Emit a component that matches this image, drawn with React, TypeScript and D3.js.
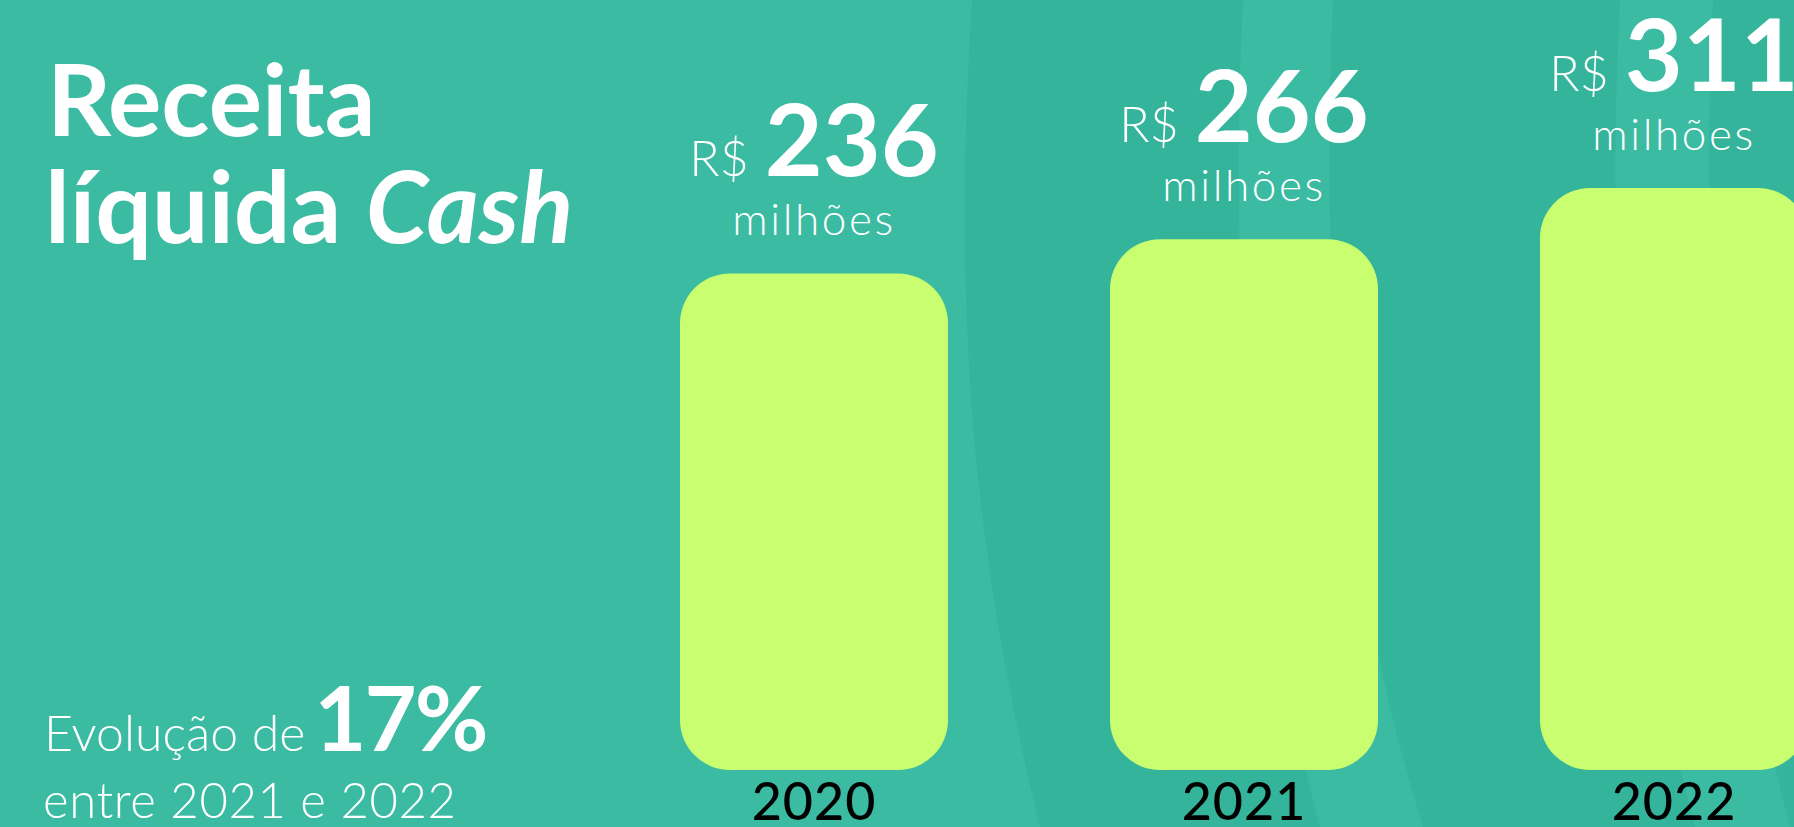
import React, { useEffect } from "react";
import * as d3 from "d3";

const years = ["2020", "2021", "2022"];
const values = [236, 266, 311];
const titleLines = ["Receita", "líquida"];
const titleItalic = "Cash";
const growthPct = "17%";
const growthPrefix = "Evolução de";
const growthSuffix = "entre 2021 e 2022";
const unitPrefix = "R$";
const unitSuffix = "milhões";

const W = 1794;
const H = 827;
const BG = "#3ABBA2";
const BG_DARK = "#34B49B";
const BAR = "#C8FE70";
const FONT = "Lato, 'Open Sans', sans-serif";

// background wave boundaries (decorative)
const bands: number[][] = [
  [972, 955, 280, 965, 520, 1040],
  [1243, 1228, 280, 1250, 560, 1320],
  [1333, 1320, 280, 1340, 560, 1423],
  [1620, 1605, 280, 1625, 560, 1695],
  [1713, 1700, 280, 1720, 560, 1790],
];

function bandPath(a: number[], b: number[] | null) {
  const p = d3.path();
  p.moveTo(a[0], 0);
  p.bezierCurveTo(a[1], a[2], a[3], a[4], a[5], H);
  if (b) {
    p.lineTo(b[5], H);
    p.bezierCurveTo(b[3], b[4], b[1], b[2], b[0], 0);
  } else {
    p.lineTo(W, H);
    p.lineTo(W, 0);
  }
  p.closePath();
  return p.toString();
}

export default function App() {
  useEffect(() => {
    document.body.style.margin = "0";
  }, []);

  const x = d3
    .scaleBand<string>()
    .domain(years)
    .range([680, 1808])
    .paddingInner(0.3767)
    .paddingOuter(0);
  // infographic-style truncated value axis
  const y = d3.scaleLinear().domain([-200, 311]).range([770, 188]);
  const baseline = y(-200);

  const darkPaths = [
    bandPath(bands[0], bands[1]),
    bandPath(bands[2], bands[3]),
    bandPath(bands[4], null),
  ];

  return (
    <svg
      width={W}
      height={H}
      viewBox={`0 0 ${W} ${H}`}
      style={{ display: "block", position: "absolute", left: 0, top: 0 }}
      fontFamily={FONT}
    >
      <rect x={0} y={0} width={W} height={H} fill={BG} />
      {darkPaths.map((d, i) => (
        <path key={i} d={d} fill={BG_DARK} />
      ))}

      {/* Title */}
      <text x={47} y={136} fill="#fff" fontWeight={700} fontSize={100}>
        {titleLines[0]}
      </text>
      <text x={45} y={243} fill="#fff" fontWeight={700} fontSize={100}>
        {titleLines[1]}{" "}
        <tspan fontStyle="italic">{titleItalic}</tspan>
      </text>

      {/* Growth note */}
      <text x={44} y={751} fill="#fff">
        <tspan fontWeight={300} fontSize={50}>
          {growthPrefix}
        </tspan>
        <tspan dx={9} fontWeight={700} fontSize={90} letterSpacing={-2}>
          {growthPct}
        </tspan>
      </text>
      <text x={43} y={818} fill="#fff" fontWeight={300} fontSize={49} letterSpacing={0.6}>
        {growthSuffix}
      </text>

      {/* Bars */}
      {years.map((yr, i) => {
        const x0 = x(yr)!;
        const bw = x.bandwidth();
        const top = y(values[i]);
        const cx = x0 + bw / 2;
        return (
          <g key={yr}>
            <rect x={x0} y={top} width={bw} height={baseline - top} rx={50} ry={50} fill={BAR} />
            <text x={cx} y={top - 97} textAnchor="middle" fill="#fff">
              <tspan fontWeight={300} fontSize={50}>
                {unitPrefix}
              </tspan>
              <tspan dx={16} fontWeight={700} fontSize={100}>
                {String(values[i])}
              </tspan>
            </text>
            <text
              x={cx}
              y={top - 38}
              textAnchor="middle"
              fill="#fff"
              fontWeight={300}
              fontSize={44}
              letterSpacing={2.6}
            >
              {unitSuffix}
            </text>
            <text
              x={cx}
              y={820}
              textAnchor="middle"
              fill="#000"
              fontWeight={500}
              fontSize={52}
              letterSpacing={1}
            >
              {yr}
            </text>
          </g>
        );
      })}
    </svg>
  );
}
